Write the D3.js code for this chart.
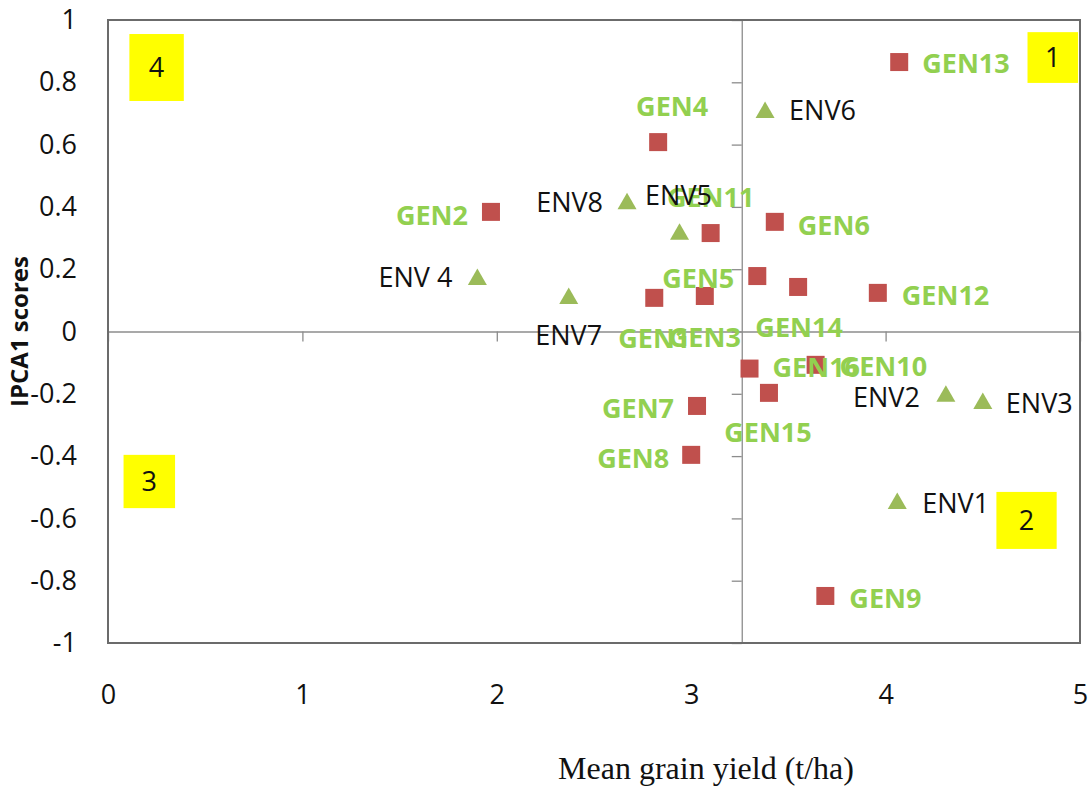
<!DOCTYPE html>
<html>
<head>
<meta charset="utf-8">
<script src="https://cdn.jsdelivr.net/npm/d3@7"></script>
<style>
  body { margin: 0; background: #fff; }
  svg { display: block; }
</style>
</head>
<body>
<div id="chart"></div>
<script>
// genotypes (squares)
var genNames = ["GEN1", "GEN2", "GEN3", "GEN4", "GEN5", "GEN6", "GEN7", "GEN8",
                "GEN9", "GEN10", "GEN11", "GEN12", "GEN13", "GEN14", "GEN15", "GEN16"];
var genYield = [2.81, 1.97, 3.07, 2.83, 3.34, 3.43, 3.03, 3.00,
                3.69, 3.64, 3.10, 3.96, 4.07, 3.55, 3.40, 3.30];
var genIpca  = [0.108, 0.384, 0.114, 0.608, 0.178, 0.352, -0.239, -0.396,
                -0.849, -0.107, 0.316, 0.124, 0.865, 0.143, -0.197, -0.119];

// environments (triangles)
var envNames = ["ENV1", "ENV2", "ENV3", "ENV 4", "ENV5", "ENV6", "ENV7", "ENV8"];
var envYield = [4.06, 4.31, 4.50, 1.90, 2.94, 3.38, 2.37, 2.67];
var envIpca  = [-0.544, -0.200, -0.223, 0.175, 0.320, 0.711, 0.114, 0.418];

var grandMean = 3.26;
var xTicks = [0, 1, 2, 3, 4, 5];
var yTicks = [-1, -0.8, -0.6, -0.4, -0.2, 0, 0.2, 0.4, 0.6, 0.8, 1];

// quadrant boxes
var quadNames = ["1", "2", "3", "4"];

// label placement (anchor, dx, dy in px) - layout only
var genLabelPos = [
  ["middle", 0, 40], ["end", -23, 3], ["middle", 0, 41], ["middle", 14, -36],
  ["end", -23, 2], ["start", 23, 3], ["end", -23, 2], ["end", -22, 3],
  ["start", 24, 2], ["start", 24, 1], ["middle", 0, -36], ["start", 24, 2],
  ["start", 23, 1], ["middle", 1, 40], ["middle", -1, 39], ["start", 23, -1]
];
var envLabelPos = [
  ["start", 25, 2], ["end", -26, 3], ["start", 23, 2], ["end", -25, 0],
  ["middle", -1, -37], ["start", 24, 0], ["middle", 0, 39], ["end", -24, 1]
];
// quadrant box extents in data units [x0, x1, y0, y1]
var quadBoxes = [
  [4.73, 4.99, 0.798, 0.961],
  [4.57, 4.88, -0.698, -0.515],
  [0.08, 0.345, -0.567, -0.396],
  [0.11, 0.39, 0.74, 0.955]
];

var W = 1089, H = 787;
var margin = {left: 108, right: 9, top: 20, bottom: 144};
var w = W - margin.left - margin.right;
var h = H - margin.top - margin.bottom;
var sans = "'Open Sans', 'Noto Sans', sans-serif";

var svg = d3.select("#chart").append("svg")
  .attr("width", W)
  .attr("height", H);

var plot = svg.append("g")
  .attr("transform", "translate(" + margin.left + "," + margin.top + ")");

var x = d3.scaleLinear().domain([0, 5]).range([0, w]);
var y = d3.scaleLinear().domain([-1, 1]).range([h, 0]);

// tick labels at the outer edges
var yLabels = plot.append("g")
  .call(d3.axisLeft(y).tickValues(yTicks).tickSize(0).tickPadding(31)
    .tickFormat(function(d) { return String(+d.toFixed(1)); }));
yLabels.select(".domain").remove();
yLabels.selectAll("text")
  .style("font-family", sans).style("font-size", "27px").attr("fill", "#111");

var xLabels = plot.append("g")
  .attr("transform", "translate(0," + h + ")")
  .call(d3.axisBottom(x).tickValues(xTicks).tickSize(0).tickPadding(42)
    .tickFormat(function(d) { return String(d); }));
xLabels.select(".domain").remove();
xLabels.selectAll("text")
  .style("font-family", sans).style("font-size", "27px").attr("fill", "#111");

// crossing axes: zero line and grand mean line
var zeroAxis = plot.append("g")
  .attr("transform", "translate(0," + y(0) + ")")
  .call(d3.axisBottom(x).tickValues(xTicks).tickSize(10).tickSizeOuter(0).tickFormat(""));
zeroAxis.selectAll("path, line").attr("stroke", "#8c8c8c").attr("stroke-width", 1.3);

var meanAxis = plot.append("g")
  .attr("transform", "translate(" + x(grandMean) + ",0)")
  .call(d3.axisLeft(y).tickValues(yTicks).tickSize(10).tickSizeOuter(0).tickFormat(""));
meanAxis.selectAll("path, line").attr("stroke", "#8c8c8c").attr("stroke-width", 1.3);

// plot border
plot.append("rect")
  .attr("x", 0).attr("y", 0)
  .attr("width", w).attr("height", h)
  .attr("fill", "none")
  .attr("stroke", "#6b6b6b")
  .attr("stroke-width", 2);

// quadrant boxes
quadNames.forEach(function(q, i) {
  var b = quadBoxes[i];
  plot.append("rect")
    .attr("x", x(b[0])).attr("y", y(b[3]))
    .attr("width", x(b[1]) - x(b[0]))
    .attr("height", y(b[2]) - y(b[3]))
    .attr("fill", "#ffff00");
  plot.append("text")
    .attr("x", (x(b[0]) + x(b[1])) / 2)
    .attr("y", (y(b[2]) + y(b[3])) / 2)
    .attr("dy", "0.36em")
    .attr("text-anchor", "middle")
    .style("font-family", sans).style("font-size", "27px")
    .attr("fill", "#111")
    .text(q);
});

// markers
var sq = 18;
plot.selectAll("rect.gen")
  .data(genNames).enter()
  .append("rect")
    .attr("class", "gen")
    .attr("x", function(d, i) { return x(genYield[i]) - sq / 2; })
    .attr("y", function(d, i) { return y(genIpca[i]) - sq / 2; })
    .attr("width", sq).attr("height", sq)
    .attr("fill", "#c0504d");

plot.selectAll("path.env")
  .data(envNames).enter()
  .append("path")
    .attr("class", "env")
    .attr("d", "M0,-8.5L9.5,8L-9.5,8Z")
    .attr("transform", function(d, i) {
      return "translate(" + x(envYield[i]) + "," + y(envIpca[i]) + ")";
    })
    .attr("fill", "#9bbb59");

// labels
plot.selectAll("text.gen")
  .data(genNames).enter()
  .append("text")
    .attr("class", "gen")
    .attr("x", function(d, i) { return x(genYield[i]) + genLabelPos[i][1]; })
    .attr("y", function(d, i) { return y(genIpca[i]) + genLabelPos[i][2]; })
    .attr("dy", "0.36em")
    .attr("text-anchor", function(d, i) { return genLabelPos[i][0]; })
    .style("font-family", sans).style("font-size", "27px").style("font-weight", "bold")
    .attr("fill", "#92d050")
    .text(function(d) { return d; });

plot.selectAll("text.env")
  .data(envNames).enter()
  .append("text")
    .attr("class", "env")
    .attr("x", function(d, i) { return x(envYield[i]) + envLabelPos[i][1]; })
    .attr("y", function(d, i) { return y(envIpca[i]) + envLabelPos[i][2]; })
    .attr("dy", "0.36em")
    .attr("text-anchor", function(d, i) { return envLabelPos[i][0]; })
    .style("font-family", sans).style("font-size", "27px")
    .attr("fill", "#111")
    .text(function(d) { return d; });

// axis titles
svg.append("text")
  .attr("x", 706).attr("y", 779)
  .attr("text-anchor", "middle")
  .style("font-family", "'Liberation Serif', 'DejaVu Serif', serif")
  .style("font-size", "32px")
  .attr("fill", "#111")
  .text("Mean grain yield (t/ha)");

svg.append("text")
  .attr("transform", "translate(19," + (margin.top + y(0)) + ") rotate(-90)")
  .attr("dy", "0.36em")
  .attr("text-anchor", "middle")
  .style("font-family", sans)
  .style("font-size", "24px")
  .style("font-weight", "bold")
  .attr("fill", "#111")
  .text("IPCA1 scores");
</script>
</body>
</html>
